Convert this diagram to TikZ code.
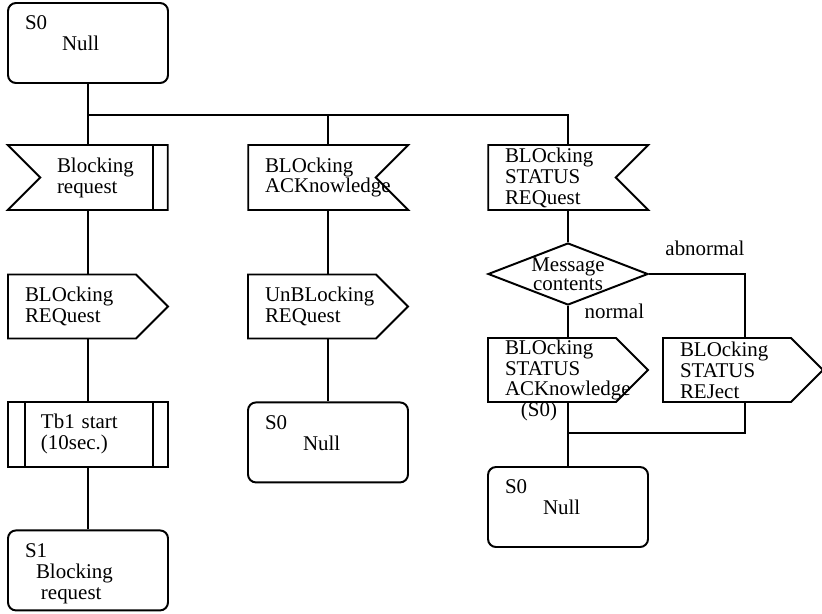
\documentclass[tikz,border=0pt]{standalone}
\usepackage{fontspec}
\setmainfont{Liberation Serif}
\usetikzlibrary{shapes.symbols, shapes.geometric}

\begin{document}
\begin{tikzpicture}[
    font=\fontsize{14.9pt}{14.9pt}\selectfont,
    line/.style={line width=1.4pt},
    state/.style={draw, line width=1.4pt, rounded corners=0.2cm, minimum width=4cm, minimum height=2cm, inner sep=0pt,
        execute at begin node={\begin{minipage}[t][1.35cm][t]{3.15cm}}, execute at end node={\end{minipage}}},
    sigin/.style={draw, line width=1.4pt, signal, signal to=nowhere, minimum width=4cm, minimum height=1.625cm, inner sep=0pt, text width=2.35cm, align=left},
    sigout/.style={draw, line width=1.4pt, signal, signal to=east, minimum width=4cm, minimum height=1.6cm, inner sep=0pt, text width=2.35cm, align=left},
    timer/.style={draw, line width=1.4pt, rectangle, minimum width=4cm, minimum height=1.625cm, inner sep=0pt, align=left,
        path picture={\draw[line width=1.4pt] ([xshift=0.425cm]path picture bounding box.north west) -- ([xshift=0.425cm]path picture bounding box.south west);
                      \draw[line width=1.4pt] ([xshift=-0.375cm]path picture bounding box.north east) -- ([xshift=-0.375cm]path picture bounding box.south east);}},
    decision/.style={draw, line width=1.4pt, diamond, shape aspect=2.6, minimum width=4cm, minimum height=1.55cm, inner sep=-3pt, align=center,
        font=\fontsize{14.9pt}{13.6pt}\selectfont},
    tag/.style={inner sep=0pt}
]
\useasboundingbox (0,0) rectangle (20.55,-15.325);

% States
\node[state] (s0top) at (2.2,-1.075) {S0\\\hspace*{0.925cm}Null};
\node[state] (s0ack) at (8.2,-11.06) {S0\\\hspace*{0.95cm}Null};
\node[state] (s0stat) at (14.2,-12.675) {S0\\\hspace*{0.95cm}Null};
\node[state] (s1) at (2.2,-14.26) {S1\\\hspace*{0.275cm}Blocking\\\hspace*{0.4cm}request};

% Input signals
\node[sigin, signal from=west,
    path picture={\draw[line width=1.4pt] ([xshift=-0.375cm]path picture bounding box.north east) -- ([xshift=-0.375cm]path picture bounding box.south east);}]
    (blkreq) at (2.6,-4.4375) {Blocking\\request};
\node[sigin, signal from=east] (blkack) at (7.8,-4.4375) {BLOcking\\ACKnowledge};
\node[sigin, signal from=east] (statreq) at (13.8,-4.4375) {BLOcking\\STATUS\\REQuest};

% Output signals
\node[sigout] (blkout) at (1.8,-7.6625) {BLOcking\\REQuest};
\node[sigout] (unblk) at (7.8,-7.6625) {UnBLocking\\REQuest};
\node[sigout] (statack) at (13.8,-9.25) {BLOcking\\STATUS\\ACKnowledge};
\node[sigout] (statrej) at (18.175,-9.25) {BLOcking\\STATUS\\REJect};

% Timer and decision
\node[timer, text width=2.35cm] (tb1) at (2.2,-10.86) {Tb1 start\\(10sec.)};
\node[decision] (msg) at (14.2,-6.85) {Message\\contents};

% Labels
\node[tag] (abn) at (17.625,-6.2) {abnormal};
\node[tag] (nrm) at (15.36,-7.775) {normal};
\node[tag] (acks0) at (13.475,-10.275) {(S0)};

% Bus and join points
\coordinate (col2) at (8.2,-2.875);
\coordinate (col3) at (14.2,-2.875);
\coordinate (rj) at (18.625,-10.825);

% Connectors
\draw[line] (s0top.south) -- (s0top.south |- blkreq.north);
\draw[line] (s0top.south |- col3) -- (col3) -- (col3 |- statreq.north);
\draw[line] (col2) -- (col2 |- blkack.north);
\draw[line] (s0top.south |- blkreq.south) -- (s0top.south |- blkout.north);
\draw[line] (s0top.south |- blkout.south) -- (tb1.north);
\draw[line] (tb1.south) -- (s1.north);
\draw[line] (col2 |- blkack.south) -- (col2 |- unblk.north);
\draw[line] (col2 |- unblk.south) -- (s0ack.north);
\draw[line] (col3 |- statreq.south) -- (msg.north);
\draw[line] (msg.south) -- (msg.south |- statack.north);
\draw[line] (msg.east) -| (rj |- statrej.north);
\draw[line] (rj |- statrej.south) -- (rj) -- (rj -| s0stat.north);
\draw[line] (col3 |- statack.south) -- (s0stat.north);

\end{tikzpicture}
\end{document}
